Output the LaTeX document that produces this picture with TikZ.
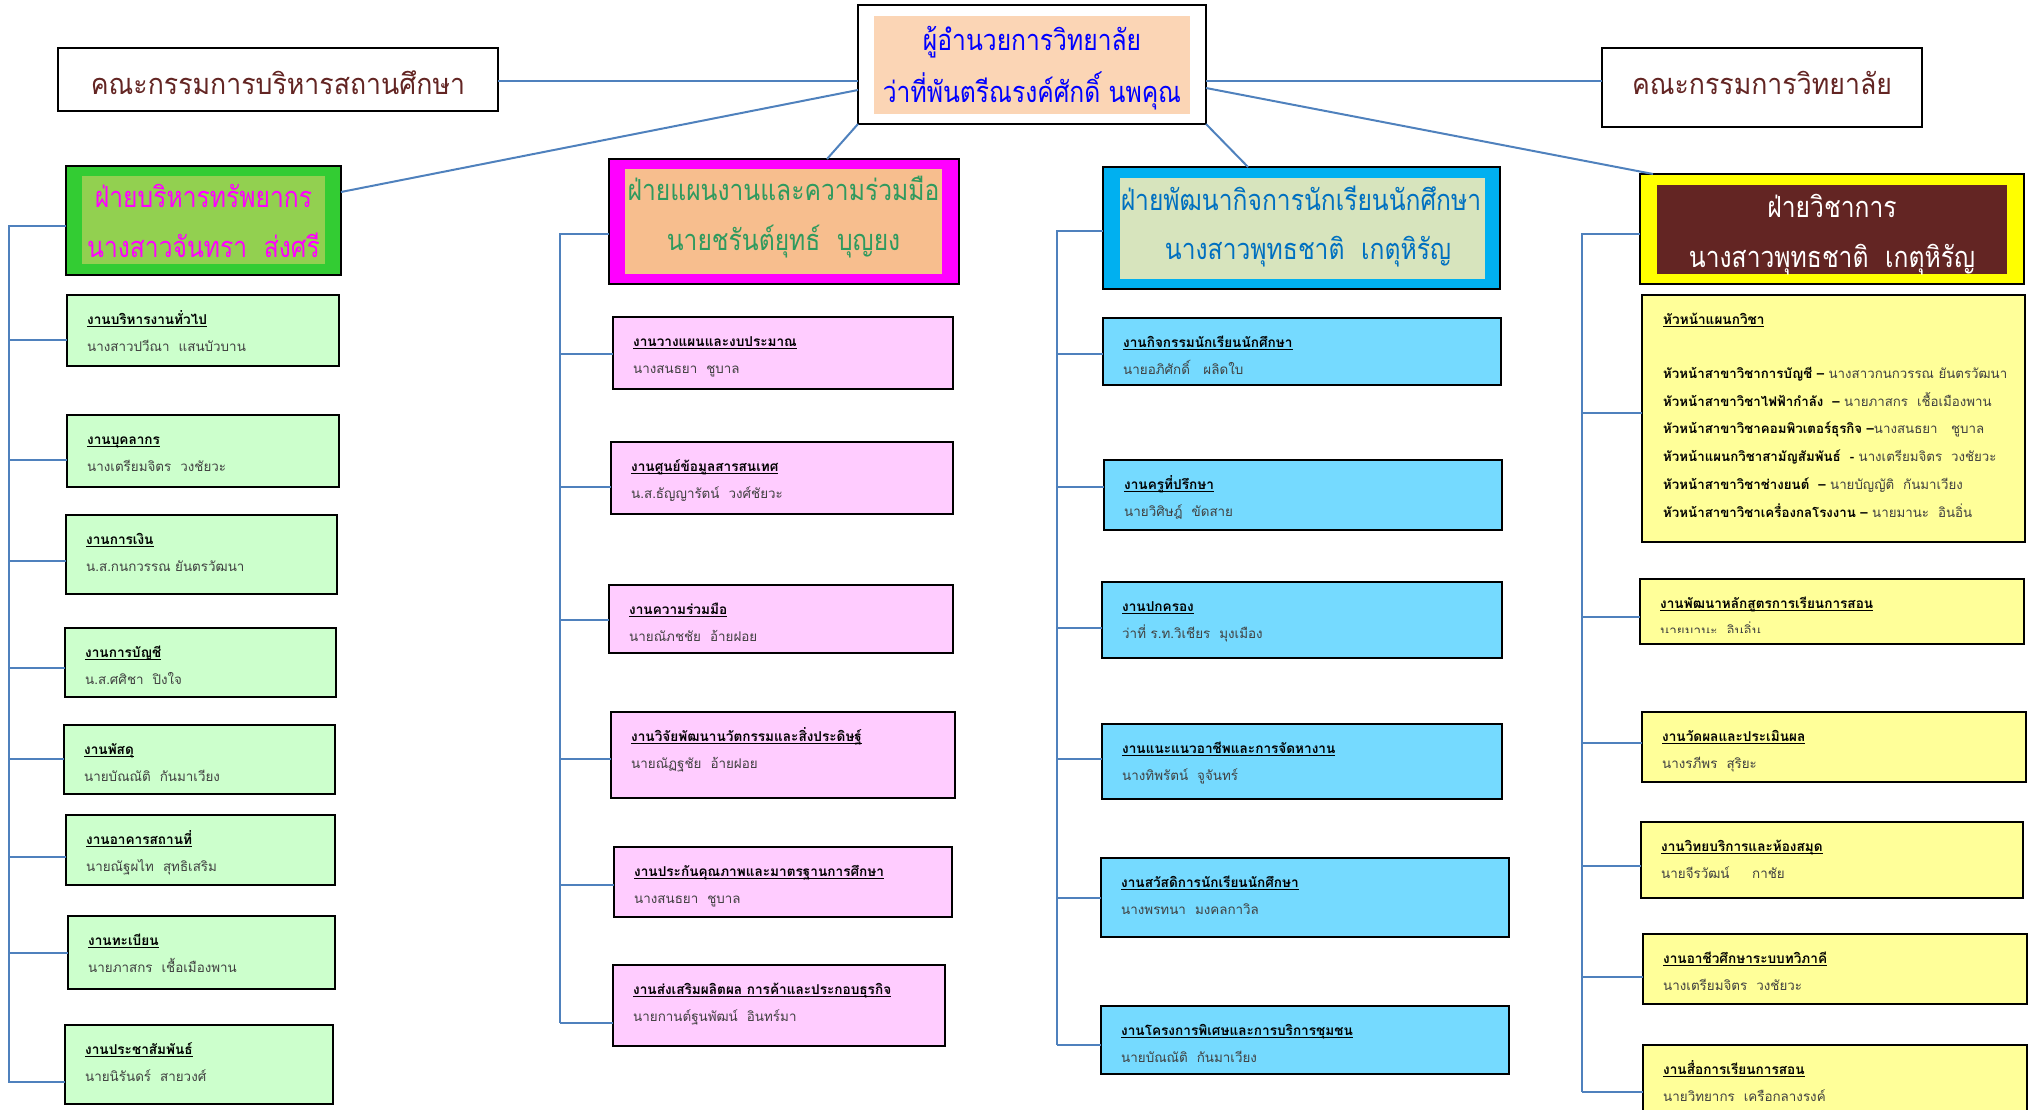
\documentclass[tikz,border=0pt]{standalone}
\usepackage{fontspec}
\setmainfont[Script=Thai]{Loma}
\newfontfamily\dispfont[Script=Thai,FakeStretch=0.85]{Loma}
\newfontfamily\comfont[Script=Thai,FakeStretch=0.92]{Loma}
\usetikzlibrary{calc}
\definecolor{connc}{HTML}{4F81BD}
\definecolor{comtxt}{HTML}{632523}
\definecolor{presin}{HTML}{FBD5B5}
\definecolor{presTxt}{HTML}{0000FF}
\definecolor{gOut}{HTML}{33CC33}
\definecolor{gIn}{HTML}{92D050}
\definecolor{gTxt}{HTML}{FF00FF}
\definecolor{mOut}{HTML}{FF00FF}
\definecolor{mIn}{HTML}{F7BE8E}
\definecolor{mTxt}{HTML}{2F9A5E}
\definecolor{bOut}{HTML}{00B0F0}
\definecolor{bIn}{HTML}{D7E4BD}
\definecolor{bTxt}{HTML}{0070C0}
\definecolor{yOut}{HTML}{FFFF00}
\definecolor{yIn}{HTML}{632523}
\definecolor{subG}{HTML}{CCFFCC}
\definecolor{subP}{HTML}{FFCCFF}
\definecolor{subB}{HTML}{75DAFF}
\definecolor{subY}{HTML}{FFFF99}
\definecolor{nmc}{HTML}{404040}
\newcommand\myul[1]{\setbox0\hbox{#1}\rlap{\rule[-2.5pt]{\wd0}{0.9pt}}\box0}
\tikzset{
  conn/.style={draw=connc, line width=2pt},
  subbox/.style={draw=black, line width=2pt, inner sep=0pt, outer sep=0pt, rectangle},
  divout/.style={draw=black, line width=2pt, inner sep=0pt, outer sep=0pt, rectangle},
  divin/.style={draw=none, inner sep=0pt, outer sep=0pt, rectangle},
  dtxt/.style={anchor=base, inner sep=0pt, font=\dispfont\fontsize{29}{31}\selectfont},
  ctxt/.style={anchor=base, inner sep=0pt, font=\comfont\fontsize{29}{31}\selectfont},
  ttl/.style={anchor=base west, inner sep=0pt, font=\fontsize{13.6}{16}\selectfont\bfseries, text=black},
  nm/.style={anchor=base west, inner sep=0pt, font=\fontsize{13.4}{16}\selectfont, text=nmc},
  rowtxt/.style={anchor=base west, inner sep=0pt, font=\fontsize{13.3}{16}\selectfont, text=black}
}
% name x1 y1 x2 y2 fill spine cy title
\newcommand\mkbox[9]{%
  \node[subbox, fill=#6, minimum width={#4-#2}, minimum height={#5-#3}] (#1) at ({(#2+#4)/2},{(#3+#5)/2}) {};
  \node[ttl] at ([xshift=20pt,yshift=-29pt]#1.north west) {\myul{#9}};
  \draw[conn] (#7 |- 0,#8) -- (#1.west |- 0,#8);
}
\newcommand\who[2]{\node[nm] at ([xshift=20pt,yshift=-56pt]#1.north west) {#2};}
\begin{document}
\begin{tikzpicture}[x=1pt,y=-1pt]
\useasboundingbox (0,0) rectangle (2030,1110);

% top level
\node[divout, fill=white, minimum width=440, minimum height=63] (lc) at (278,79.5) {};
\node[ctxt, text=comtxt] at (278,95) {คณะกรรมการบริหารสถานศึกษา};
\node[divout, fill=white, minimum width=320, minimum height=79] (rc) at (1762,87.5) {};
\node[ctxt, text=comtxt] at (1762,95) {คณะกรรมการวิทยาลัย};
\node[divout, fill=white, minimum width=348, minimum height=119] (pres) at (1032,64.5) {};
\node[divin, fill=presin, minimum width=316, minimum height=98] (presi) at (1032,65) {};
\node[dtxt, text=presTxt] at (1032,51) {ผู้อำนวยการวิทยาลัย};
\node[dtxt, text=presTxt] at (1032,103) {ว่าที่พันตรีณรงค์ศักดิ์ นพคุณ};

% divisions
\node[divout, fill=gOut, minimum width=275, minimum height=109] (d1) at (203.5,220.5) {};
\node[divin, fill=gIn, minimum width=243, minimum height=88] (d1i) at (203.5,220) {};
\node[dtxt, text=gTxt] at (203.5,208) {ฝ่ายบริหารทรัพยากร};
\node[dtxt, text=gTxt] at (203.5,258) {นางสาวจันทรา~~ส่งศรี};

\node[divout, fill=mOut, minimum width=350, minimum height=125] (d2) at (784,221.5) {};
\node[divin, fill=mIn, minimum width=317, minimum height=105] (d2i) at (783.5,221.5) {};
\node[dtxt, text=mTxt] at (783.5,201) {ฝ่ายแผนงานและความร่วมมือ};
\node[dtxt, text=mTxt] at (783.5,251) {นายชรันต์ยุทธ์~~บุญยง};

\node[divout, fill=bOut, minimum width=397, minimum height=122] (d3) at (1301.5,228) {};
\node[divin, fill=bIn, minimum width=365, minimum height=101] (d3i) at (1302.5,228.5) {};
\node[dtxt, text=bTxt] at (1301,211) {ฝ่ายพัฒนากิจการนักเรียนนักศึกษา};
\node[dtxt, text=bTxt] at (1308,260) {นางสาวพุทธชาติ~~เกตุหิรัญ};

\node[divout, fill=yOut, minimum width=384, minimum height=110] (d4) at (1832,229) {};
\node[divin, fill=yIn, minimum width=350, minimum height=89] (d4i) at (1832,229.5) {};
\node[dtxt, text=white] at (1832,218) {ฝ่ายวิชาการ};
\node[dtxt, text=white] at (1832,268) {นางสาวพุทธชาติ~~เกตุหิรัญ};

% top connectors
\draw[conn] (lc.east |- 0,81) -- (pres.west |- 0,81);
\draw[conn] (pres.east |- 0,81) -- (rc.west |- 0,81);
\draw[conn] (pres.west |- 0,90) -- (d1.east |- 0,192);
\draw[conn] (pres.south west) -- (d2.north -| 827,0);
\draw[conn] (pres.south east) -- (d3.north -| 1248,0);
\draw[conn] (pres.east |- 0,88) -- (d4.north -| 1653,0);

% spines
\coordinate (s1) at (9,226);   \coordinate (s1b) at (9,1083);
\coordinate (s2) at (560,234); \coordinate (s2b) at (560,1023);
\coordinate (s3) at (1057,231); \coordinate (s3b) at (1057,1045);
\coordinate (s4) at (1582,234); \coordinate (s4b) at (1582,1092);
\draw[conn] (d1.west |- s1) -- (s1) -- (s1b);
\draw[conn] (d2.west |- s2) -- (s2) -- (s2b);
\draw[conn] (d3.west |- s3) -- (s3) -- (s3b);
\draw[conn] (d4.west |- s4) -- (s4) -- (s4b);

% column 1
\mkbox{c1a}{67}{295}{339}{366}{subG}{s1}{340}{งานบริหารงานทั่วไป}
\who{c1a}{นางสาวปวีณา~~แสนบัวบาน}
\mkbox{c1b}{67}{415}{339}{487}{subG}{s1}{460}{งานบุคลากร}
\who{c1b}{นางเตรียมจิตร~~วงชัยวะ}
\mkbox{c1c}{66}{515}{337}{594}{subG}{s1}{561}{งานการเงิน}
\who{c1c}{น.ส.กนกวรรณ ยันตรวัฒนา}
\mkbox{c1d}{65}{628}{336}{697}{subG}{s1}{668}{งานการบัญชี}
\who{c1d}{น.ส.ศศิชา~~ปิงใจ}
\mkbox{c1e}{64}{725}{335}{794}{subG}{s1}{759}{งานพัสดุ}
\who{c1e}{นายบัณณัติ~~กันมาเวียง}
\mkbox{c1f}{66}{815}{335}{885}{subG}{s1}{857}{งานอาคารสถานที่}
\who{c1f}{นายณัฐผไท~~สุทธิเสริม}
\mkbox{c1g}{68}{916}{335}{989}{subG}{s1}{953}{งานทะเบียน}
\who{c1g}{นายภาสกร~~เชื้อเมืองพาน}
\mkbox{c1h}{65}{1025}{333}{1104}{subG}{s1}{1082}{งานประชาสัมพันธ์}
\who{c1h}{นายนิรันดร์~~สายวงศ์}

% column 2
\mkbox{c2a}{613}{317}{953}{389}{subP}{s2}{354}{งานวางแผนและงบประมาณ}
\who{c2a}{นางสนธยา~~ชูบาล}
\mkbox{c2b}{611}{442}{953}{514}{subP}{s2}{487}{งานศูนย์ข้อมูลสารสนเทศ}
\who{c2b}{น.ส.ธัญญารัตน์~~วงศ์ชัยวะ}
\mkbox{c2c}{609}{585}{953}{653}{subP}{s2}{620}{งานความร่วมมือ}
\who{c2c}{นายณัภชชัย~~อ้ายฝอย}
\mkbox{c2d}{611}{712}{955}{798}{subP}{s2}{759}{งานวิจัยพัฒนานวัตกรรมและสิ่งประดิษฐ์}
\who{c2d}{นายณัฏฐชัย~~อ้ายฝอย}
\mkbox{c2e}{614}{847}{952}{917}{subP}{s2}{885}{งานประกันคุณภาพและมาตรฐานการศึกษา}
\who{c2e}{นางสนธยา~~ชูบาล}
\mkbox{c2f}{613}{965}{945}{1046}{subP}{s2}{1023}{งานส่งเสริมผลิตผล การค้าและประกอบธุรกิจ}
\who{c2f}{นายกานต์ฐนพัฒน์~~อินทร์มา}

% column 3
\mkbox{c3a}{1103}{318}{1501}{385}{subB}{s3}{354}{งานกิจกรรมนักเรียนนักศึกษา}
\who{c3a}{นายอภิศักดิ์~~~ผลิดใบ}
\mkbox{c3b}{1104}{460}{1502}{530}{subB}{s3}{487}{งานครูที่ปรึกษา}
\who{c3b}{นายวิศิษฎ์~~ขัดสาย}
\mkbox{c3c}{1102}{582}{1502}{658}{subB}{s3}{628}{งานปกครอง}
\who{c3c}{ว่าที่ ร.ท.วิเชียร~~มุงเมือง}
\mkbox{c3d}{1102}{724}{1502}{799}{subB}{s3}{759}{งานแนะแนวอาชีพและการจัดหางาน}
\who{c3d}{นางทิพรัตน์~~จูจันทร์}
\mkbox{c3e}{1101}{858}{1509}{937}{subB}{s3}{898}{งานสวัสดิการนักเรียนนักศึกษา}
\who{c3e}{นางพรทนา~~มงคลกาวิล}
\mkbox{c3f}{1101}{1006}{1509}{1074}{subB}{s3}{1045}{งานโครงการพิเศษและการบริการชุมชน}
\who{c3f}{นายบัณณัติ~~กันมาเวียง}

% column 4
\node[subbox, fill=subY, minimum width=383, minimum height=247] (a1) at (1833.5,418.5) {};
\draw[conn] (s4 |- 0,413) -- (a1.west |- 0,413);
\node[ttl] at (1663,324) {\myul{หัวหน้าแผนกวิชา}};
\node[rowtxt] at (1663,378) {\textbf{หัวหน้าสาขาวิชาการบัญชี –} \textcolor{nmc}{นางสาวกนกวรรณ ยันตรวัฒนา}};
\node[rowtxt] at (1663,406) {\textbf{หัวหน้าสาขาวิชาไฟฟ้ากำลัง~~–} \textcolor{nmc}{นายภาสกร~~เชื้อเมืองพาน}};
\node[rowtxt] at (1663,433) {\textbf{หัวหน้าสาขาวิชาคอมพิวเตอร์ธุรกิจ –}\textcolor{nmc}{นางสนธยา~~~ชูบาล}};
\node[rowtxt] at (1663,461) {\textbf{หัวหน้าแผนกวิชาสามัญสัมพันธ์~~-} \textcolor{nmc}{นางเตรียมจิตร~~วงชัยวะ}};
\node[rowtxt] at (1663,489) {\textbf{หัวหน้าสาขาวิชาช่างยนต์~~–} \textcolor{nmc}{นายบัญญัติ~~กันมาเวียง}};
\node[rowtxt] at (1663,517) {\textbf{หัวหน้าสาขาวิชาเครื่องกลโรงงาน –} \textcolor{nmc}{นายมานะ~~อินอิ่น}};

\mkbox{a2}{1640}{579}{2024}{644}{subY}{s4}{617}{งานพัฒนาหลักสูตรการเรียนการสอน}
\begin{scope}
\clip (1640,579) rectangle (2024,632);
\who{a2}{นายมานะ~~อินอิ่น}
\end{scope}
\mkbox{a3}{1642}{712}{2026}{782}{subY}{s4}{743}{งานวัดผลและประเมินผล}
\who{a3}{นางรภีพร~~สุริยะ}
\mkbox{a4}{1641}{822}{2023}{898}{subY}{s4}{866}{งานวิทยบริการและห้องสมุด}
\who{a4}{นายจีรวัฒน์~~~~~กาชัย}
\mkbox{a5}{1643}{934}{2027}{1004}{subY}{s4}{977}{งานอาชีวศึกษาระบบทวิภาคี}
\who{a5}{นางเตรียมจิตร~~วงชัยวะ}
\mkbox{a6}{1643}{1045}{2027}{1125}{subY}{s4}{1092}{งานสื่อการเรียนการสอน}
\who{a6}{นายวิทยากร~~เครือกลางรงค์}
\end{tikzpicture}
\end{document}
